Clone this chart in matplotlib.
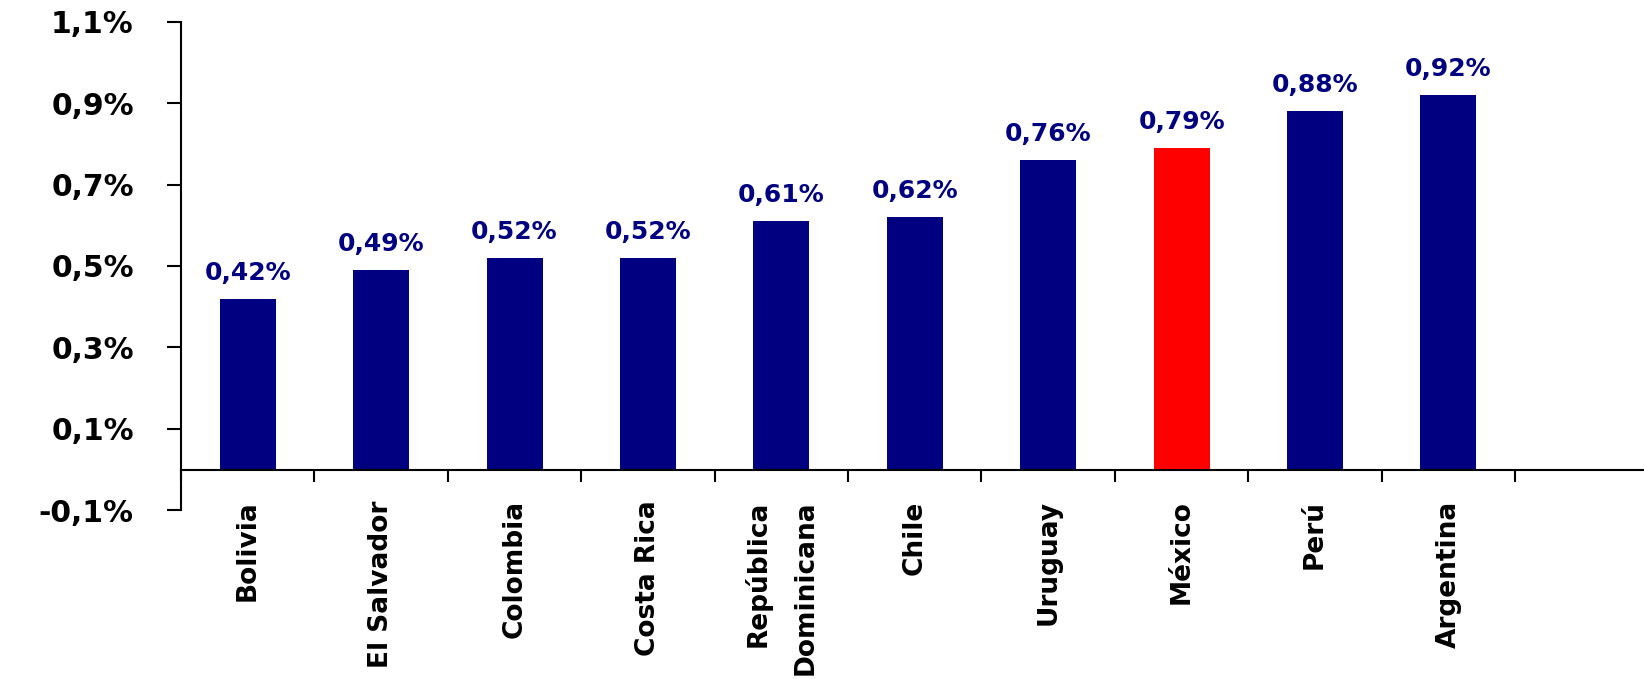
import matplotlib
matplotlib.use("Agg")
import matplotlib.pyplot as plt
import numpy as np

# Countries and their values (%), Mexico highlighted
COUNTRIES = ["Bolivia", "El Salvador", "Colombia", "Costa Rica",
             "República\nDominicana", "Chile", "Uruguay", "México",
             "Perú", "Argentina"]
VALUES = [0.42, 0.49, 0.52, 0.52, 0.61, 0.62, 0.76, 0.79, 0.88, 0.92]
HIGHLIGHT = "México"

Y_TICKS = [-0.1, 0.1, 0.3, 0.5, 0.7, 0.9, 1.1]
Y_TICK_LABELS = ["-0,1%", "0,1%", "0,3%", "0,5%", "0,7%", "0,9%", "1,1%"]

NAVY = "#000080"
RED = "#FF0000"

plt.rcParams["font.family"] = ["DejaVu Sans"]

fig = plt.figure(figsize=(16.44, 6.79), dpi=100)
ax = fig.add_axes([0.1101, 0.2482, 0.8899, 0.7201])

x = np.arange(len(COUNTRIES))
colors = [RED if c == HIGHLIGHT else NAVY for c in COUNTRIES]
bars = ax.bar(x, VALUES, width=0.42, color=colors, zorder=2)

for rect, v in zip(bars, VALUES):
    ax.annotate(f"{v:.2f}".replace(".", ",") + "%",
                xy=(rect.get_x() + rect.get_width() / 2, v),
                xytext=(0, 13.5), textcoords="offset points",
                ha="center", va="baseline",
                fontsize=18, fontweight="bold", color=NAVY)

ax.set_xlim(-0.5, 10.466)
ax.set_ylim(-0.1, 1.1)

# y axis
ax.set_yticks(Y_TICKS)
ax.set_yticklabels(Y_TICK_LABELS, fontsize=21.5, fontweight="bold")
ax.tick_params(axis="y", direction="out", length=10, width=1.5, pad=24)

# x axis sits at zero; ticks mark category boundaries, labels at centres
ax.spines["bottom"].set_position(("data", 0))
ax.set_xticks(np.arange(-0.5, len(COUNTRIES), 1.0))
ax.set_xticklabels([])
ax.tick_params(axis="x", which="major", direction="out", length=8.6, width=1.5)
ax.set_xticks(x, minor=True)
ax.set_xticklabels(COUNTRIES, minor=True, rotation=90, fontsize=19,
                   fontweight="bold", linespacing=2.05, multialignment="right")
ax.tick_params(axis="x", which="minor", length=0, pad=22)

for side in ("top", "right"):
    ax.spines[side].set_visible(False)
for side in ("left", "bottom"):
    ax.spines[side].set_linewidth(1.5)
    ax.spines[side].set_color("black")

fig.savefig("out.png", dpi=100)
